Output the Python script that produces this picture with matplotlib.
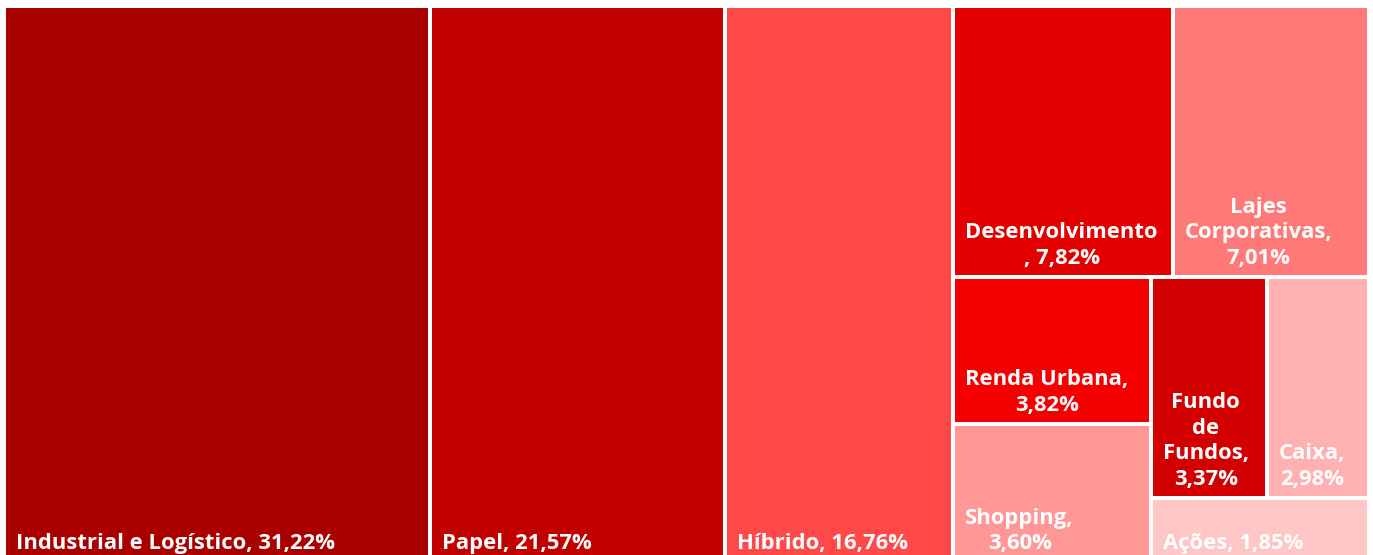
import matplotlib.pyplot as plt
from matplotlib.patches import Rectangle

# Composição da carteira por segmento (%)
categories = ["Industrial e Logístico", "Papel", "Híbrido", "Desenvolvimento",
              "Lajes Corporativas", "Renda Urbana", "Shopping", "Fundo de Fundos",
              "Caixa", "Ações"]
weights = [31.22, 21.57, 16.76, 7.82, 7.01, 3.82, 3.60, 3.37, 2.98, 1.85]
label_fmt = ["Industrial e Logístico, {}", "Papel, {}", "Híbrido, {}",
             "Desenvolvimento\n, {}", "Lajes\nCorporativas,\n{}", "Renda Urbana,\n{}",
             "Shopping,\n{}", "Fundo\nde\nFundos,\n{}", "Caixa,\n{}", "Ações, {}"]
colors = ["#AA0000", "#C10000", "#FF4949", "#E30000", "#FF7979",
          "#F50000", "#FF9797", "#D20000", "#FFB0B0", "#FFC6C6"]

# split tree: "h" lays children side by side, "v" stacks them
LAYOUT = ("h", [0, 1, 2,
                ("v", [("h", [3, 4]),
                       ("h", [("v", [5, 6]),
                              ("v", [("h", [7, 8]), 9])])])])

W, H = 1365, 556  # plot area in pixels
PAD = 10


def node_total(node):
    if isinstance(node, int):
        return weights[node]
    return sum(node_total(c) for c in node[1])


def layout(node, x, y, w, h, out):
    if isinstance(node, int):
        out[node] = (x, y, w, h)
        return
    direction, children = node
    total = node_total(node)
    pos = 0.0
    for child in children:
        frac = node_total(child) / total
        if direction == "h":
            layout(child, x + pos * w, y, frac * w, h, out)
        else:
            layout(child, x, y + pos * h, w, frac * h, out)
        pos += frac


def fmt_pct(v):
    return f"{v:.2f}".replace(".", ",") + "%"


def main() -> None:
    rects = {}
    layout(LAYOUT, 0, 0, W, H, rects)

    fig = plt.figure(figsize=(13.73, 5.55), dpi=100)
    ax = fig.add_axes([4 / 1373, (555 - 6 - H) / 555, W / 1373, H / 555])
    ax.set_xlim(0, W)
    ax.set_ylim(H, 0)
    ax.axis("off")

    for i, (x, y, w, h) in rects.items():
        ax.add_patch(Rectangle((x, y), w, h, facecolor=colors[i],
                               edgecolor="white", linewidth=2.88))
        ax.text(x + 2 + PAD, y + h - 8, label_fmt[i].format(fmt_pct(weights[i])),
                ha="left", va="bottom", multialignment="center",
                color="white", fontsize=15.8, fontweight="bold",
                family="Open Sans", linespacing=1.28)

    fig.savefig("out.png")
    plt.close(fig)


if __name__ == "__main__":
    main()
